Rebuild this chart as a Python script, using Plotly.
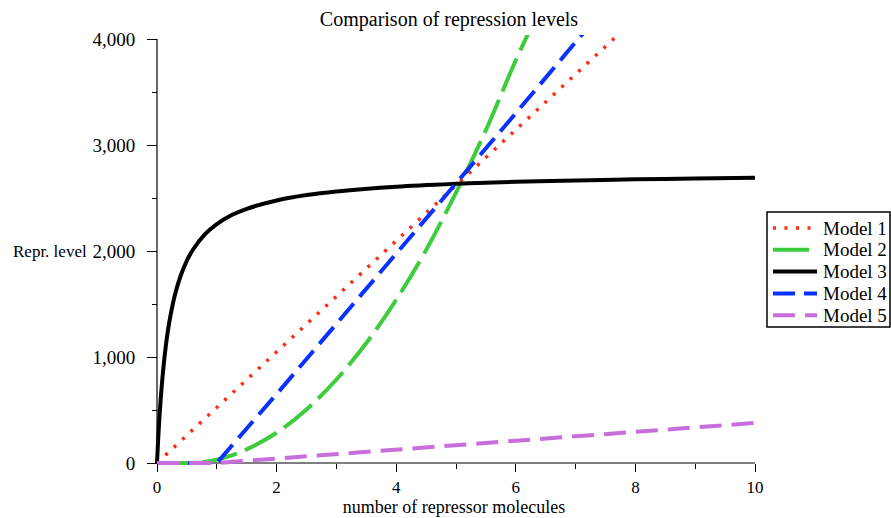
import plotly.graph_objects as go

# ---- data ----
x_m1 = [0, 10]
y_m1 = [0, 5240]

x_m2 = [0, 0.5, 0.75, 1, 1.25, 1.5, 2, 2.5, 3, 3.5, 4, 4.5, 5, 5.5, 6, 6.3]
y_m2 = [0, 0, 8, 32, 72, 128, 285, 505, 788, 1132, 1540, 2010, 2550, 3140, 3800, 4160]

x_m3 = [0, 0.02, 0.05, 0.1, 0.15, 0.2, 0.3, 0.4, 0.5, 0.6, 0.8, 1.0, 1.25, 1.5, 2, 2.5, 3, 4, 5, 6, 7, 8, 9, 10]
y_m3 = [0, 229, 509, 859, 1115, 1310, 1587, 1774, 1910, 2012, 2157, 2254, 2339, 2398, 2477, 2528, 2562, 2607, 2634, 2653, 2666, 2676, 2684, 2691]

x_m4 = [0, 1, 2, 3, 4, 5, 6, 7, 7.5]
y_m4 = [0, 0, 650, 1310, 1970, 2630, 3300, 3970, 4300]

x_m5 = [0, 1, 10]
y_m5 = [0, 0, 378]

x_ticks = [0, 2, 4, 6, 8, 10]
x_minor = [1, 3, 5, 7, 9]
y_ticks = [0, 1000, 2000, 3000, 4000]
y_tick_labels = ["0", "1,000", "2,000", "3,000", "4,000"]
y_minor = [500, 1500, 2500, 3500]

names = ["Model 1", "Model 2", "Model 3", "Model 4", "Model 5"]
colors = ["#ff2a10", "#3ccc3c", "#000000", "#0a32ff", "#c76edc"]
widths = [3.5, 4, 4, 4, 4]
dashes = ["3px,8.5px", "36px,9px", "solid", "22px,9px", "22px,10px"]
shapes_ = ["linear", "spline", "spline", "linear", "linear"]
FONT = "Liberation Serif"

# ---- geometry (window pixels) ----
W, H = 891, 518
L0, R10 = 157, 755        # px of x=0, x=10
B0, T4k = 463, 39         # px of y=0, y=4000
pad_l, pad_b, pad_t = 4, 6, 4
ppx = (R10 - L0) / 10.0
ppy = (B0 - T4k) / 4000.0
xmin = -pad_l / ppx
ymin = -pad_b / ppy
ymax = 4000 + pad_t / ppy
left = L0 - pad_l
top = T4k - pad_t
bottom = B0 + pad_b
pw = R10 - left
ph = bottom - top


def PX(wx):
    return (wx - left) / pw


def PY(wy):
    return 1 - (wy - top) / ph


fig = go.Figure()
data = [(x_m1, y_m1), (x_m2, y_m2), (x_m3, y_m3), (x_m4, y_m4), (x_m5, y_m5)]
for (xs, ys), name, c, w, d, s in zip(data, names, colors, widths, dashes, shapes_):
    fig.add_trace(go.Scatter(x=xs, y=ys, mode="lines", name=name, showlegend=False,
                             line=dict(color=c, width=w, dash=d, shape=s)))

fig.update_layout(
    width=W, height=H,
    margin=dict(l=left, r=W - R10, t=top, b=H - bottom, pad=0, autoexpand=False),
    plot_bgcolor="white", paper_bgcolor="white",
    font=dict(family=FONT, size=18, color="black"),
    title=dict(text="Comparison of repression levels", x=449 / W,
               xanchor="center", y=1 - 19 / H, yanchor="middle",
               font=dict(size=20, family=FONT), automargin=False),
    xaxis=dict(range=[xmin, 10], anchor="free", position=pad_b / ph, automargin=False,
               showgrid=False, zeroline=False, showline=False,
               ticks="outside", ticklen=8, tickwidth=1, tickcolor="black",
               tickmode="array", tickvals=x_ticks, ticklabelstandoff=1,
               minor=dict(tickmode="array", tickvals=x_minor, ticks="outside",
                          ticklen=5, tickcolor="black", showgrid=False),
               tickfont=dict(size=17),
               title=dict(text="number of repressor molecules", font=dict(size=18), standoff=2)),
    yaxis=dict(range=[ymin, ymax], anchor="free", position=pad_l / pw, automargin=False,
               showgrid=False, zeroline=False, showline=False,
               ticks="outside", ticklen=10, tickwidth=1, tickcolor="black",
               tickmode="array", tickvals=y_ticks, ticktext=y_tick_labels,
               ticklabelstandoff=8,
               minor=dict(tickmode="array", tickvals=y_minor, ticks="outside",
                          ticklen=5, tickcolor="black", showgrid=False),
               tickfont=dict(size=19)),
    showlegend=False,
)

# axis lines through the origin
fig.add_shape(type="line", xref="x", yref="y", x0=0, x1=0, y0=0, y1=4000,
              line=dict(color="black", width=1.2), layer="below")
fig.add_shape(type="line", xref="x", yref="y", x0=0, x1=10, y0=0, y1=0,
              line=dict(color="black", width=1.2), layer="below")

fig.add_annotation(text="Repr. level", xref="paper", yref="paper",
                   x=PX(11), xanchor="left", y=PY(251), yanchor="middle",
                   showarrow=False, font=dict(size=17, family=FONT))

# legend box (drawn to match the reference layout)
fig.add_shape(type="rect", xref="paper", yref="paper",
              x0=PX(767), x1=PX(890), y0=PY(327), y1=PY(212),
              line=dict(color="black", width=1.5), fillcolor="white", layer="above")
row0, rstep = 228, 21.8
for i, (name, c, w, d) in enumerate(zip(names, colors, widths, dashes)):
    yy = PY(row0 + i * rstep)
    fig.add_shape(type="line", xref="paper", yref="paper",
                  x0=PX(773), x1=PX(817), y0=yy, y1=yy,
                  line=dict(color=c, width=w, dash=d), layer="above")
    fig.add_annotation(text=name, xref="paper", yref="paper", x=PX(821), xanchor="left",
                       y=yy, yanchor="middle", showarrow=False,
                       font=dict(size=19, family=FONT))

fig.write_html("out.html", config={"displayModeBar": False},
               post_script="document.body.style.margin='0px';")
